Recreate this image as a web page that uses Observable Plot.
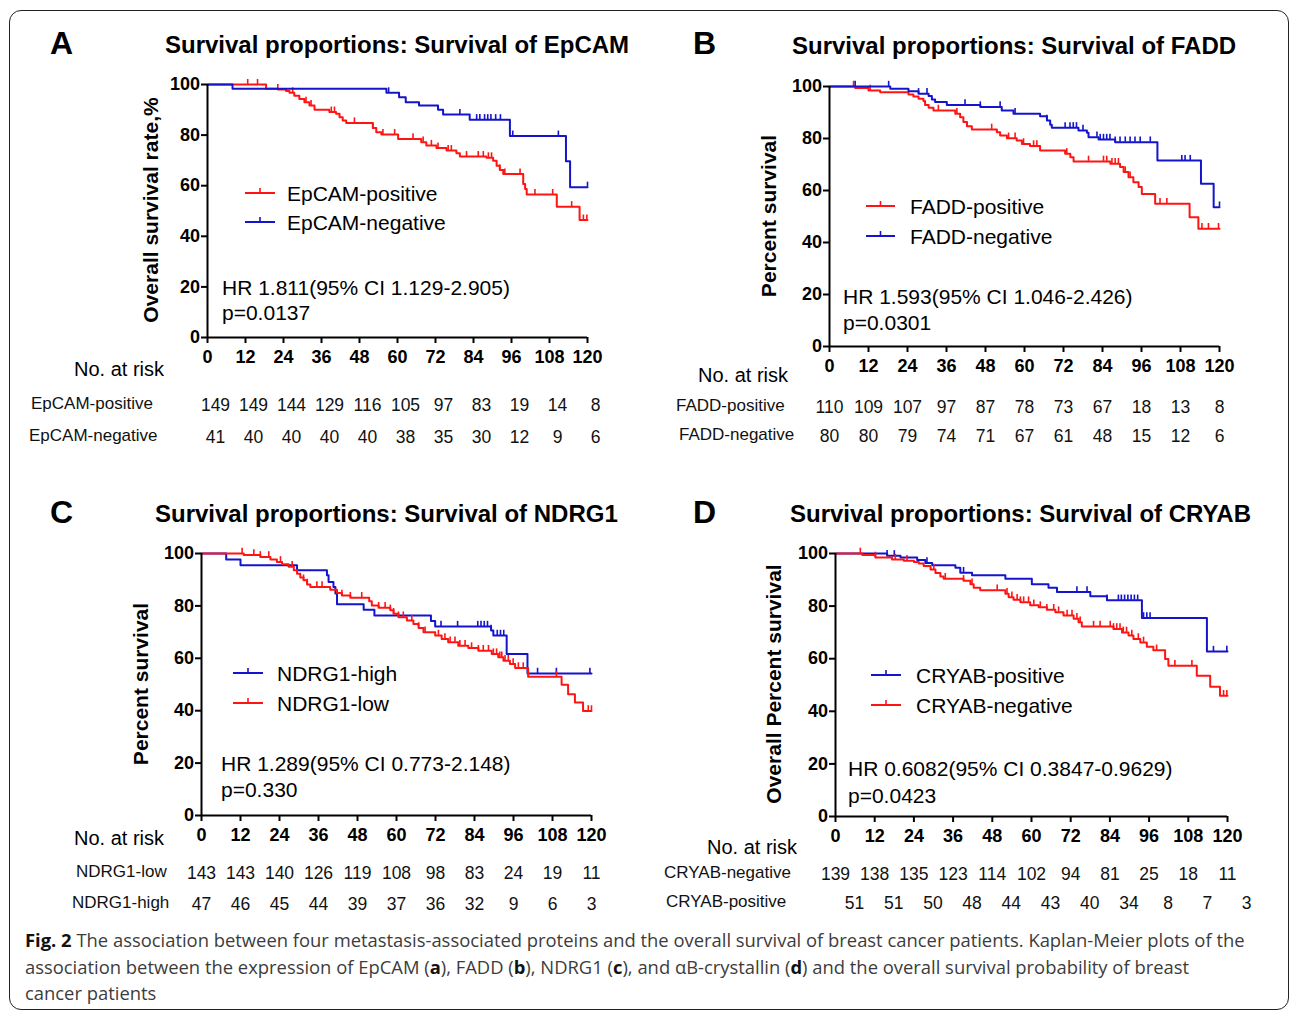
<!DOCTYPE html>
<html>
<head>
<meta charset="utf-8">
<script src="https://cdn.jsdelivr.net/npm/d3@7"></script>
<script src="https://cdn.jsdelivr.net/npm/@observablehq/plot@0.6"></script>
<style>
  html, body { margin: 0; padding: 0; background: #fff; }
  #page { position: relative; width: 1292px; height: 1012px; overflow: hidden; background: #fff; }
  #frame { position: absolute; left: 9px; top: 10px; width: 1278px; height: 998px; border: 1.5px solid #222; border-radius: 12px; }
  .panel { position: absolute; }
  .panel svg { overflow: visible; background: transparent; }
  #caption { position: absolute; left: 25px; top: 927px; font-family: "Open Sans", sans-serif; font-size: 18.4px; line-height: 26.5px; color: #3c3c3c; white-space: nowrap; }
  #caption b { color: #111; }
</style>
</head>
<body>
<div id="page">
  <div id="frame"></div>
  <div id="pA" class="panel"></div>
  <div id="pB" class="panel"></div>
  <div id="pC" class="panel"></div>
  <div id="pD" class="panel"></div>
  <div id="caption"><b>Fig. 2</b> The association between four metastasis-associated proteins and the overall survival of breast cancer patients. Kaplan-Meier plots of the<br>association between the expression of EpCAM (<b>a</b>), FADD (<b>b</b>), NDRG1 (<b>c</b>), and αB-crystallin (<b>d</b>) and the overall survival probability of breast<br>cancer patients</div>
</div>
<script>
// ---------- data ----------
const monthTicks = [0, 12, 24, 36, 48, 60, 72, 84, 96, 108, 120];
const percentTicks = [0, 20, 40, 60, 80, 100];

const panelLetters = ["A", "B", "C", "D"];
const panelTitles = [
  "Survival proportions: Survival of EpCAM",
  "Survival proportions: Survival of FADD",
  "Survival proportions: Survival of NDRG1",
  "Survival proportions: Survival of CRYAB"
];
const yLabels = ["Overall survival rate,%", "Percent survival", "Percent survival", "Overall Percent survival"];
const hrTexts = [
  ["HR 1.811(95% CI 1.129-2.905)", "p=0.0137"],
  ["HR 1.593(95% CI 1.046-2.426)", "p=0.0301"],
  ["HR 1.289(95% CI 0.773-2.148)", "p=0.330"],
  ["HR 0.6082(95% CI 0.3847-0.9629)", "p=0.0423"]
];
const riskTitle = "No. at risk";

// Panel A: EpCAM
const epcamPos = [[0,100],[18.5,98.3],[22.2,98.0],[24.8,97.4],[25.9,96.7],[27.4,95.6],[29.0,94.3],[30.6,93.0],[32.2,91.7],[33.8,90.0],[38.5,89.1],[40.6,88.4],[41.7,87.1],[42.7,85.8],[43.8,84.8],[52.2,82.8],[53.3,81.1],[54.9,80.2],[60.2,78.5],[67.5,77.2],[69.1,75.9],[72.3,74.9],[75.5,73.9],[78.6,72.8],[79.7,71.5],[88.1,71.0],[90.2,69.9],[91.3,67.9],[92.3,66.2],[93.4,64.6],[99.7,60.7],[100.3,58.7],[100.8,56.5],[110.3,51.7],[117.5,46.4],[120,46.4]];
const epcamNeg = [[0,100],[7.9,98.3],[56.5,96.7],[60.5,95.0],[62.6,93.0],[66.8,91.7],[72.8,90.0],[74.4,88.1],[82.8,86.1],[95.5,79.6],[113.2,69.7],[114.5,59.4],[120,59.4]];
const epcamPosCensor = [12.7,15.8,22.2,26.9,31.1,32.7,39.1,40.1,46.4,52.2,55.4,59.1,64.9,68.1,70.7,72.8,76.0,77.0,81.8,85.5,87.1,88.7,89.7,92.3,93.9,98.7,103.4,109.0,115.0,118.7,119.8];
const epcamNegCensor = [57.2,79.7,85,86,87.5,88.5,89.5,91,92.5,96.4,110.8,120];
const epcamPosRisk = [149,149,144,129,116,105,97,83,19,14,8];
const epcamNegRisk = [41,40,40,40,40,38,35,30,12,9,6];

// Panel B: FADD
const faddPos = [[0,100],[7.9,99.4],[12.0,98.5],[15.6,97.8],[24.3,96.9],[25.8,96.2],[27.4,95.3],[28.9,94.4],[29.4,92.9],[30.5,91.8],[32.0,90.8],[38.7,89.5],[40.2,88.2],[41.2,86.3],[42.3,84.7],[43.8,83.5],[51.5,82.4],[52.5,81.2],[54.6,80.1],[57.6,79.2],[59.2,77.9],[61.7,77.1],[64.8,75.4],[72.5,74.1],[74.1,72.8],[75.1,71.2],[86.4,70.3],[89.4,69.0],[90.5,67.1],[92.0,65.1],[93.5,63.2],[95.1,61.3],[96.1,58.7],[100.2,54.9],[110.8,49.7],[113.5,45.3],[120,45.3]];
const faddNeg = [[0,100],[18.7,99.1],[24.3,98.2],[27.4,97.2],[30.5,96.3],[31.5,95.0],[32.5,94.0],[36.1,92.9],[46.4,92.1],[53.0,90.8],[56.6,89.5],[64.8,88.6],[66.9,86.9],[67.9,85.3],[68.4,84.1],[76.6,83.1],[79.2,82.2],[79.7,80.5],[82.8,79.6],[87.9,78.6],[100.9,71.5],[114.3,62.6],[118.2,53.6],[120,53.6]];
const faddPosCensor = [7.4,12.5,33.5,39.2,49.9,55.1,57.1,59.7,62.8,63.8,73.0,79.7,84.3,85.3,86.9,87.9,88.9,91.0,92.5,101.7,103.8,114.6,116.6,119.7];
const faddNegCensor = [7.9,18.2,27.4,30,41.7,46.4,52.5,57.1,66.9,72.5,74,75,76,78,82.3,83.3,84.3,85.3,86.3,87.9,89.4,91,92.5,94,95.6,98.7,108.4,109.4,111,120];
const faddPosRisk = [110,109,107,97,87,78,73,67,18,13,8];
const faddNegRisk = [80,80,79,74,71,67,61,48,15,12,6];

// Panel C: NDRG1
const ndrgHigh = [[0,100],[7.6,97.7],[12.0,95.5],[29.4,93.6],[38.6,91.7],[39.1,89.1],[40.6,87.2],[41.2,84.7],[41.7,80.6],[49.9,78.5],[53.2,76.3],[70.6,74.2],[71.9,72.1],[89.1,70.6],[89.8,68.7],[93.9,61.6],[100.3,54.2],[120,54.2]];
const ndrgLow = [[0,100],[13.0,99.4],[18.1,98.7],[21.2,97.7],[23.2,96.8],[24.8,95.9],[26.8,94.9],[28.4,93.6],[29.4,92.3],[30.4,90.8],[31.4,89.8],[32.5,88.2],[33.5,87.2],[39.6,86.2],[41.7,84.9],[43.2,84.0],[45.8,83.1],[51.6,81.8],[52.4,80.2],[54.5,79.3],[58.1,78.3],[59.1,77.0],[60.6,75.7],[63.2,74.4],[65.2,73.1],[66.8,71.6],[68.3,69.9],[71.9,68.7],[73.9,67.4],[75.9,66.1],[79.0,64.8],[82.1,63.9],[85.2,62.9],[89.3,61.6],[91.3,60.4],[92.9,59.1],[94.9,57.8],[96.5,56.3],[100.5,53.0],[110.8,49.9],[112.8,46.3],[114.9,43.1],[117.4,39.9],[120,39.9]];
const ndrgHighCensor = [73.7,78.8,85.0,86,87,88,89.1,91,92,93,103.4,109.2,119.5];
const ndrgLowCensor = [12.5,16.1,18.1,20.7,24.3,27.9,31.4,32.5,35.5,37.1,43.2,45.8,49.3,54.5,56.5,58.1,59.1,60.6,62.1,64.7,66.8,68.8,72.9,74.9,76.5,78.0,79.5,81.1,83.1,85.2,86.7,88.3,89.8,90.8,91.8,92.4,93.4,94.4,95.9,97.5,99.0,109.2,119,120];
const ndrgLowRisk = [143,143,140,126,119,108,98,83,24,19,11];
const ndrgHighRisk = [47,46,45,44,39,37,36,32,9,6,3];

// Panel D: CRYAB
const cryabPos = [[0,100],[15.8,99.1],[19.9,98.5],[25.0,97.5],[27.5,96.4],[29.6,95.5],[36.7,94.6],[38.2,92.7],[41.8,91.7],[52.0,90.4],[60.1,88.3],[65.2,87.0],[67.8,85.4],[78.0,83.7],[83.1,82.2],[93.8,75.5],[113.7,62.7],[120,62.7]];
const cryabNeg = [[0,100],[8.2,99.4],[12.2,98.5],[17.3,97.7],[20.9,97.2],[24.0,96.8],[25.5,96.2],[27.0,95.2],[29.1,93.9],[30.6,92.6],[32.1,91.3],[33.1,90.4],[39.2,89.6],[41.3,88.3],[42.3,87.0],[44.3,86.0],[52.0,84.7],[53.0,83.4],[54.5,82.4],[56.6,81.5],[59.6,80.3],[62.2,79.6],[64.7,78.6],[67.3,77.7],[69.8,76.4],[72.9,75.2],[74.4,73.9],[75.4,72.2],[85.1,71.3],[87.7,70.0],[89.7,68.8],[91.2,67.5],[93.3,66.2],[95.3,64.5],[97.3,63.2],[100.9,59.9],[101.9,57.3],[110.6,53.5],[114.7,49.3],[117.7,45.9],[120,45.9]];
const cryabPosCensor = [15.8,18.0,28.0,39.2,73.9,77.0,83.1,86.6,87.5,88.5,89.5,90.5,91.5,92.5,94.3,95.3,96.3,115.7,119.8];
const cryabNegCensor = [7.6,12.2,18.3,21.9,30.1,33.6,39.2,41.8,49.5,52.5,54.0,55.6,56.6,57.6,59.1,60.7,62.7,64.7,66.8,68.3,70.9,72.4,73.9,74.9,79.0,81.0,84.1,85.1,86.1,87.1,88.1,89.1,90.7,92.7,94.3,98.3,103.9,109.1,118.8,119.8];
const cryabNegRisk = [139,138,135,123,114,102,94,81,25,18,11];
const cryabPosRisk = [51,51,50,48,44,43,40,34,8,7,3];

// ---------- styling / layout ----------
const RED = "#ff1414";
const BLUE = "#1414cc";
const FONT = "'Liberation Sans', Arial, Helvetica, sans-serif";

function survAt(curve, t) {
  let s = curve[0][1];
  for (const p of curve) { if (p[0] <= t) s = p[1]; else break; }
  return s;
}

const panels = [
  { el: "#pA", left: 0, top: 0, width: 646, height: 460, mL: 207, mR: 59, mT: 84, mB: 123,
    groups: [
      { name: "EpCAM-positive", curve: epcamPos, censor: epcamPosCensor, color: RED },
      { name: "EpCAM-negative", curve: epcamNeg, censor: epcamNegCensor, color: BLUE } ],
    rows: [
      { name: "EpCAM-positive", risk: epcamPosRisk, dy: 68, dx: 8, lx: 31 },
      { name: "EpCAM-negative", risk: epcamNegRisk, dy: 100, dx: 8, lx: 29 } ],
    letter: [50, 42], title: [165, 44], ylab: [150, 210], leg: [245, 275, 287, 193, 222],
    hr: [222, 287, 312], riskT: [74, 369] },
  { el: "#pB", left: 646, top: 0, width: 646, height: 460, mL: 183, mR: 73, mT: 86, mB: 114,
    groups: [
      { name: "FADD-positive", curve: faddPos, censor: faddPosCensor, color: RED },
      { name: "FADD-negative", curve: faddNeg, censor: faddNegCensor, color: BLUE } ],
    rows: [
      { name: "FADD-positive", risk: faddPosRisk, dy: 61, dx: 0, lx: 676 },
      { name: "FADD-negative", risk: faddNegRisk, dy: 90, dx: 0, lx: 679 } ],
    letter: [693, 42], title: [792, 45], ylab: [768, 216], leg: [866, 895, 910, 206, 236],
    hr: [843, 296, 322], riskT: [698, 375] },
  { el: "#pC", left: 0, top: 460, width: 646, height: 460, mL: 201, mR: 55, mT: 93, mB: 105,
    groups: [
      { name: "NDRG1-high", curve: ndrgHigh, censor: ndrgHighCensor, color: BLUE },
      { name: "NDRG1-low", curve: ndrgLow, censor: ndrgLowCensor, color: RED } ],
    rows: [
      { name: "NDRG1-low", risk: ndrgLowRisk, dy: 58, dx: 0, lx: 76 },
      { name: "NDRG1-high", risk: ndrgHighRisk, dy: 89, dx: 0, lx: 72 } ],
    letter: [50, 511], title: [155, 513], ylab: [140, 684], leg: [233, 263, 277, 673, 703],
    hr: [221, 763, 789], riskT: [74, 838] },
  { el: "#pD", left: 646, top: 460, width: 646, height: 460, mL: 189, mR: 65, mT: 93, mB: 104,
    groups: [
      { name: "CRYAB-positive", curve: cryabPos, censor: cryabPosCensor, color: BLUE },
      { name: "CRYAB-negative", curve: cryabNeg, censor: cryabNegCensor, color: RED } ],
    rows: [
      { name: "CRYAB-negative", risk: cryabNegRisk, dy: 58, dx: 0, lx: 664 },
      { name: "CRYAB-positive", risk: cryabPosRisk, dy: 87, dx: 19, lx: 666 } ],
    letter: [693, 511], title: [790, 513], ylab: [773, 684], leg: [871, 901, 916, 675, 705],
    hr: [848, 768, 795], riskT: [707, 847] }
];

panels.forEach((p, k) => {
  const marks = [];
  for (const g of p.groups) {
    marks.push(Plot.line(g.curve, { x: d => d[0], y: d => d[1], curve: "step-after", stroke: g.color, strokeWidth: 2 }));
    marks.push(Plot.ruleX(g.censor, { x: t => t, y1: t => survAt(g.curve, t), y2: t => survAt(g.curve, t) + 2, stroke: g.color, strokeWidth: 1.6 }));
  }
  for (const r of p.rows) {
    const rowData = monthTicks.map((t, i) => ({ t, n: r.risk[i] }));
    marks.push(Plot.text(rowData, { x: "t", y: 0, dy: r.dy, dx: r.dx, text: "n", fontSize: 17.5, fontWeight: "normal", fill: "#111" }));
  }
  marks.push(Plot.axisY({ ticks: percentTicks, tickSize: 6, tickPadding: 1.5, strokeWidth: 2, label: null, fontSize: 18, fontWeight: "bold" }));
  marks.push(Plot.axisX({ ticks: monthTicks, tickSize: 6, tickPadding: 7, strokeWidth: 2, label: null, fontSize: 18, fontWeight: "bold" }));
  marks.push(Plot.ruleY([0], { strokeWidth: 2 }));
  marks.push(Plot.ruleX([0], { strokeWidth: 2 }));

  const plot = Plot.plot({
    width: p.width, height: p.height,
    marginLeft: p.mL, marginRight: p.mR, marginTop: p.mT, marginBottom: p.mB,
    x: { domain: [0, 120] },
    y: { domain: [0, 100] },
    style: { fontFamily: FONT, fontSize: "18px", fontWeight: "bold", color: "#000", background: "transparent", overflow: "visible" },
    marks
  });
  const holder = document.querySelector(p.el);
  holder.style.left = p.left + "px";
  holder.style.top = p.top + "px";
  holder.appendChild(plot);

  // annotations in page coordinates
  const svg = d3.select(plot);
  const g = svg.append("g").attr("transform", `translate(${-p.left},${-p.top})`)
    .attr("font-family", FONT).attr("fill", "#000").attr("text-anchor", "start");
  const base = (cy, fs) => cy + 0.36 * fs;

  g.append("text").attr("x", p.letter[0]).attr("y", base(p.letter[1], 32))
    .attr("font-size", 32).attr("font-weight", "bold").text(panelLetters[k]);
  g.append("text").attr("x", p.title[0]).attr("y", base(p.title[1], 24))
    .attr("font-size", 24).attr("font-weight", "bold").text(panelTitles[k]);
  g.append("text").attr("transform", `translate(${p.ylab[0] + 0.36 * 21},${p.ylab[1]}) rotate(-90)`)
    .attr("text-anchor", "middle").attr("font-size", 21).attr("font-weight", "bold").text(yLabels[k]);

  p.groups.forEach((grp, i) => {
    const ly = p.leg[3 + i];
    g.append("line").attr("x1", p.leg[0]).attr("x2", p.leg[1]).attr("y1", ly).attr("y2", ly)
      .attr("stroke", grp.color).attr("stroke-width", 2);
    const mx = (p.leg[0] + p.leg[1]) / 2;
    g.append("line").attr("x1", mx).attr("x2", mx).attr("y1", ly).attr("y2", ly - 5)
      .attr("stroke", grp.color).attr("stroke-width", 1.6);
    g.append("text").attr("x", p.leg[2]).attr("y", base(ly, 21))
      .attr("font-size", 21).attr("font-weight", "normal").text(grp.name);
  });

  hrTexts[k].forEach((t, i) => {
    g.append("text").attr("x", p.hr[0]).attr("y", base(p.hr[1 + i], 21))
      .attr("font-size", 21).attr("font-weight", "normal").text(t);
  });

  g.append("text").attr("x", p.riskT[0]).attr("y", base(p.riskT[1], 20))
    .attr("font-size", 20).attr("font-weight", "normal").text(riskTitle);

  const axisY0 = p.top + p.height - p.mB;
  p.rows.forEach(r => {
    g.append("text").attr("x", r.lx).attr("y", base(axisY0 + r.dy - 2, 17))
      .attr("font-size", 17).attr("font-weight", "normal").attr("fill", "#111").text(r.name);
  });
});
</script>
</body>
</html>
